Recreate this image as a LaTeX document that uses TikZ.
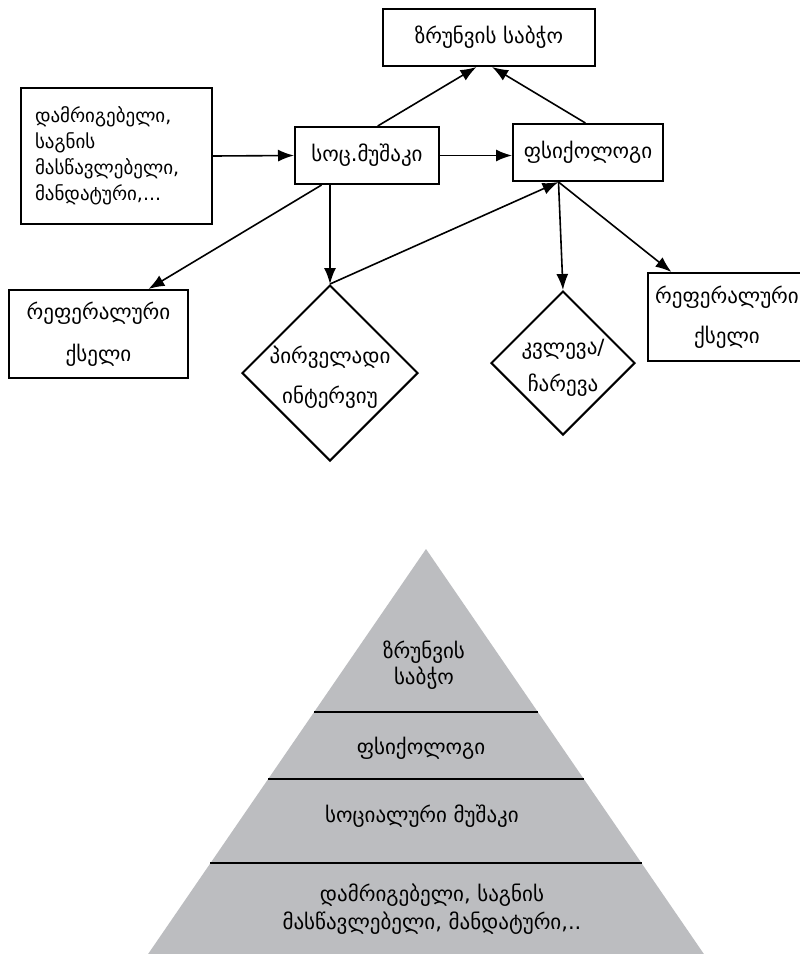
\documentclass[tikz,border=0pt]{standalone}
\usepackage{fontspec}
\setmainfont{DejaVu Sans}
\usetikzlibrary{shapes.geometric,arrows.meta}
\definecolor{pyrgray}{RGB}{188,189,192}
\begin{document}
\begin{tikzpicture}[x=1pt,y=-1pt,
  every node/.style={font=\fontsize{21}{26}\selectfont},
  box/.style={draw,line width=2pt,inner sep=0pt,align=center},
  decision/.style={draw,diamond,line width=2pt,inner sep=0pt,minimum width=#1,minimum height=#1},
  arr/.style={-{Latex[length=16pt,width=12pt]},line width=1.6pt},
  tier/.style={line width=2.6pt},
  pyramid/.style={fill=pyrgray}]
\pgfmathsetmacro{\s}{278/405}
\fill[white] (0,0) rectangle (800,954);
\clip (0,0) rectangle (800,954);
% upper chart
\node[box,minimum width=212pt,minimum height=57pt] (council) at (489,37.5) {ზრუნვის საბჭო};
\node[box,minimum width=191pt,minimum height=136pt,text width=163pt,align=left,font=\fontsize{19}{26}\selectfont] (teachers) at (116.5,156) {დამრიგებელი,\\საგნის\\მასწავლებელი,\\მანდატური,...};
\node[box,minimum width=144pt,minimum height=57pt] (social) at (367,155.5) {სოც.მუშაკი};
\node[box,minimum width=150pt,minimum height=57pt] (psych) at (588,152.5) {ფსიქოლოგი};
\node[box,minimum width=179pt,minimum height=88pt] (referralL) at (98.5,334) {რეფერალური\\[16pt]ქსელი};
\node[box,minimum width=158pt,minimum height=88pt] (referralR) at (727,317) {რეფერალური\\[14pt]ქსელი};
\node[decision=176pt] (interview) at (330,373) {};
\node[align=center] (interviewtext) at (330,377) {პირველადი\\[14pt]ინტერვიუ};
\node[decision=144pt] (research) at (563,363) {};
\node[align=center] (researchtext) at (563,368) {კვლევა/\\[11pt]ჩარევა};
\draw[arr] (teachers.east) -- (social.west);
\draw[arr] (social.east) -- (social.east -| psych.west);
\draw[arr] (social.70) -- (council.247);
\draw[arr] (psych.95) -- (council.276);
\draw[arr] (social.213) -- (referralL.42);
\draw[arr] (interview.north |- social.south) -- (interview.north);
\draw[arr] (interview.north) -- (psych.225);
\draw[arr] (psych.225) -- (research.north);
\draw[arr] (psych.225) -- (referralR.141);
% pyramid
\fill[pyramid] (426,549) -- (708,960) -- (144,960) -- cycle;
\foreach \y in {712,779,863}
  \draw[tier] ({426-\s*(\y-549)},\y) -- ({426+\s*(\y-549)},\y);
\node[align=center] (tier1) at (424,665) {ზრუნვის\\საბჭო};
\node (tier2) at (421,748) {ფსიქოლოგი};
\node (tier3) at (422,816) {სოციალური მუშაკი};
\node[align=center,font=\fontsize{21}{28}\selectfont] (tier4) at (432,909) {დამრიგებელი, საგნის\\მასწავლებელი, მანდატური,..};
\end{tikzpicture}
\end{document}
